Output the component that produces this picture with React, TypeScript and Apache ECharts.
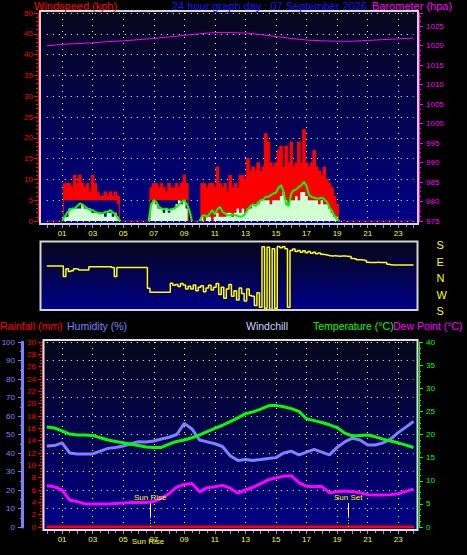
import React, { useEffect, useRef } from "react";
import * as echarts from "echarts";

// ---------- DATA (10-minute samples, 00:00 .. 24:00) ----------
const windGust = [
  0, 0, 0, 0, 0, 0, 0,
  9, 9, 9, 8, 11, 9, 11, 9, 8, 9, 7, 11, 9, 7, 6, 6, 7, 6, 7, 6, 7, 6,
  0, 0, 0, 0, 0, 0, 0, 0, 0, 0, 0, 0,
  8, 9, 9, 8, 9, 8, 7, 9, 8, 8, 9, 8, 9, 11, 9,
  0, 0, 0, 0, 0,
  9, 9, 8, 9, 9, 8, 13, 9, 8, 9, 7, 11, 8, 9, 8, 11, 11, 10, 15, 12,
  13, 12, 14, 12, 13, 21, 19, 14, 13, 14, 17, 18, 13, 18, 14, 19, 13, 14, 19, 14,
  22, 14, 13, 14, 17, 13, 12, 11, 13, 10, 9, 8, 6, 4,
  0, 0, 0, 0, 0, 0, 0, 0, 0, 0, 0, 0, 0, 0, 0, 0, 0, 0, 0, 0, 0, 0, 0, 0, 0, 0, 0, 0, 0, 0,
];
// lower edge of the red gust band
const windGustLow = [
  0, 0, 0, 0, 0, 0, 0,
  5, 5, 5, 5, 5, 5, 5, 5, 5, 5, 5, 5, 5, 5, 5, 5, 5, 5, 5, 5, 5, 4,
  0, 0, 0, 0, 0, 0, 0, 0, 0, 0, 0, 0,
  5, 5, 5, 5, 5, 5, 5, 5, 5, 5, 5, 5, 5, 5, 5,
  0, 0, 0, 0, 0,
  1, 0, 1, 1, 0, 1, 2, 1, 1, 1, 2, 2, 1, 2, 3, 2, 3, 2, 3, 3,
  4, 4, 4, 5, 5, 5, 5, 4, 5, 5, 5, 6, 7, 5, 4, 5, 5, 6, 5, 7,
  7, 6, 5, 5, 5, 5, 4, 5, 4, 4, 3, 2, 1, 1,
  0, 0, 0, 0, 0, 0, 0, 0, 0, 0, 0, 0, 0, 0, 0, 0, 0, 0, 0, 0, 0, 0, 0, 0, 0, 0, 0, 0, 0, 0,
];
const windSpeed = [
  0, 0, 0, 0, 0, 0, 0,
  1, 1, 3, 3, 3, 3, 3, 4, 3, 3, 3, 2, 2, 2, 2, 2, 1, 2, 2, 1, 2, 1,
  0, 0, 0, 0, 0, 0, 0, 0, 0, 0, 0, 0,
  4, 5, 4, 3, 3, 2, 3, 2, 3, 3, 4, 5, 4, 5, 3,
  0, 0, 0, 0, 0,
  1, 0, 1, 1, 0, 1, 2, 1, 1, 1, 2, 2, 1, 2, 3, 2, 3, 2, 3, 3,
  4, 4, 4, 5, 5, 5, 5, 4, 5, 5, 5, 6, 7, 5, 4, 5, 5, 6, 5, 7,
  7, 6, 5, 5, 5, 5, 4, 5, 4, 4, 3, 2, 1, 1,
  0, 0, 0, 0, 0, 0, 0, 0, 0, 0, 0, 0, 0, 0, 0, 0, 0, 0, 0, 0, 0, 0, 0, 0, 0, 0, 0, 0, 0, 0,
];
const windAvg = [
  0, 0, 0, 0, 0, 0, 0,
  1.0, 2.0, 2.6, 3.0, 3.0, 3.6, 4.2, 4.0, 3.4, 3.0, 2.6, 2.6, 2.2, 2.0, 1.8, 1.8, 2.2, 2.2, 2.6, 2.0, 1.6, 0.6,
  0, 0, 0, 0, 0, 0, 0, 0, 0, 0, 0, 0,
  4.0, 5.0, 4.6, 3.4, 3.0, 2.8, 3.0, 2.6, 2.8, 3.0, 3.4, 4.0, 4.6, 5.0, 4.0, 2.6,
  0, 0, 0, 0,
  1.2, 1.4, 1.0, 1.8, 2.6, 1.6, 2.8, 3.4, 2.2, 1.8, 1.4, 1.4, 1.6, 1.4, 1.2, 1.0, 1.2, 1.8, 2.8, 3.6,
  4.0, 3.6, 4.4, 5.0, 5.2, 5.8, 5.8, 6.2, 6.6, 6.8, 8.0, 8.6, 7.0, 4.0, 3.6, 6.6, 7.4, 7.6, 8.2, 8.6,
  9.4, 8.4, 6.2, 5.8, 5.6, 5.4, 5.4, 5.6, 5.2, 4.6, 3.2, 2.4, 1.2, 0.4,
  0, 0, 0, 0, 0, 0, 0, 0, 0, 0, 0, 0, 0, 0, 0, 0, 0, 0, 0, 0, 0, 0, 0, 0, 0, 0, 0, 0, 0, 0,
];
// wind direction, compass bearing in degrees (10-minute samples)
const windDir = [
  66, 66, 66, 66, 66, 66, 66,
  8,
  50, 36, 40, 50, 49, 44, 44, 44, 44,
  62, 62, 62, 62, 62, 62, 62, 62, 62,
  57, 8,
  57, 57, 57, 57, 57, 57, 57, 57, 57, 57, 57, 57,
  304, 282, 282, 282, 282, 282, 282, 282, 282,
  331, 320, 325, 313, 330, 322, 300,
  315, 300, 322, 290, 310, 318, 285, 305, 320, 295, 310,
  330, 270, 310, 250, 300, 325, 260, 290, 240, 305, 275, 235, 300, 265,
  260, 210, 280, 200,
  170, 195, 168, 190, 160, 195, 172, 165, 170, 160, 200, 150,
  158, 145, 150, 140, 148, 138, 145, 135, 140, 132, 136, 130, 128, 125,
  122, 120, 121, 120, 119, 120, 120, 118, 117,
  107, 105, 100, 99, 98, 96,
  86, 85, 85, 85, 86, 85, 84, 84,
  75, 72, 71, 71, 71, 71, 71, 71, 71, 71, 71,
];
// hourly barometer (hPa)
const barometer = [
  1019.9, 1020.3, 1020.5, 1020.7, 1021.0, 1021.2, 1021.5, 1021.8, 1022.2, 1022.6,
  1023.0, 1023.3, 1023.3, 1023.2, 1022.8, 1022.3, 1021.8, 1021.4, 1021.2, 1021.1,
  1021.1, 1021.3, 1021.5, 1021.7, 1021.9,
];
// half-hourly values
const temperature = [
  21.6, 21.4, 20.8, 20.1, 19.9, 19.9, 19.8, 19.3, 18.8, 18.5,
  18.2, 17.9, 17.6, 17.3, 17.2, 17.2, 17.9, 18.5, 18.8, 19.3,
  19.9, 20.6, 21.3, 22.0, 22.8, 23.6, 24.5, 24.9, 25.5, 26.2,
  26.3, 26.0, 25.6, 25.0, 23.4, 23.0, 22.6, 22.1, 21.5, 20.3,
  19.7, 19.8, 19.9, 19.5, 19.0, 18.6, 18.2, 17.7, 17.2,
];
const humidity = [
  43.8, 44, 45.5, 40, 39.5, 39.5, 39.5, 41, 42.5, 43,
  43.8, 45, 46.1, 46, 46.5, 47.6, 48.5, 50, 56, 53,
  47, 46, 45, 43.5, 38.5, 36, 36.5, 36, 36.5, 37,
  37.5, 40, 41, 39, 40.5, 42, 40.5, 39, 43, 46,
  48, 47, 44.3, 44.3, 45.5, 47.5, 51, 54, 57,
];
const dewPoint = [
  8.9, 8.7, 8.0, 5.8, 5.5, 5.0, 5.0, 5.0, 5.0, 5.1,
  5.2, 5.3, 5.3, 5.3, 5.5, 6.2, 7.2, 8.6, 9.2, 9.4,
  7.6, 8.5, 8.7, 9.0, 8.4, 7.3, 8.0, 8.6, 9.4, 10.2,
  10.6, 11.0, 11.1, 9.6, 8.8, 8.7, 8.8, 7.4, 7.6, 7.8,
  7.6, 7.4, 7.0, 6.9, 6.9, 7.0, 7.2, 7.7, 8.2,
];
const rainfall = [0, 0, 0, 0, 0, 0, 0, 0, 0, 0, 0, 0, 0, 0, 0, 0, 0, 0, 0, 0, 0, 0, 0, 0, 0];
const sunRise = 6.77;
const sunSet = 19.73;
const dirLabels: Record<string, string> = { "180": "S", "90": "E", "0": "N", "-90": "W", "-180": "S" };

// ---------- CHART ----------
const FONT = "'Liberation Sans', Arial, sans-serif";
const GL = 46.8;
const GR = 53.5;
const W = 467;

const t10 = windGust.map((_, i) => i / 6);
const t30 = temperature.map((_, i) => i / 2);
const t60 = barometer.map((_, i) => i);
const zip = (t: number[], v: (number | string)[]) => t.map((x, i) => [x, v[i]]);

const stops = [
  { offset: 0, color: "#06061a" },
  { offset: 1, color: "#000088" },
];
const bgFill = { type: "linear", x: 0, y: 0, x2: 0, y2: 1, colorStops: stops };
// same gradient in page coordinates, used to cut the gap under the gust band
const topBgGlobal = { type: "linear", x: 0, y: 11, x2: 0, y2: 224, global: true, colorStops: stops };

const hourAxis = (gridIndex: number, show: boolean) => ({
  type: "value", gridIndex, min: 0, max: 24, interval: 1, offset: 3,
  axisLine: { show: false, onZero: false },
  axisTick: { show, length: 4, lineStyle: { color: "#9a9a9a" } },
  minorTick: { show, splitNumber: 2, length: 3, lineStyle: { color: "#9a9a9a" } },
  axisLabel: {
    show, color: "#ffff00", fontSize: 8, fontFamily: FONT, margin: 5,
    formatter: (v: number) => (v % 2 === 1 ? String(v).padStart(2, "0") : ""),
  },
  splitLine: { show, lineStyle: { color: ["rgba(0,0,0,0)", "#ffffff"], type: [1, 5], width: 1 } },
});

const valAxis = (o: any) => ({
  type: "value",
  axisLine: { show: true, onZero: false, lineStyle: { color: o.color, width: o.lw || 1, type: o.lt || "solid" } },
  axisTick: { show: true, length: 4, lineStyle: { color: o.color } },
  minorTick: { show: !!o.minor, splitNumber: o.minor || 2, length: 2, lineStyle: { color: o.color } },
  axisLabel: { color: o.color, fontSize: 8, fontFamily: FONT, margin: o.margin, showMaxLabel: o.showMax !== false,
    formatter: (v: number) => String(Math.round(v)) },
  splitLine: o.split
    ? { show: true, lineStyle: { color: "#ffffff", type: [1, 5], width: 1 } }
    : { show: false },
  gridIndex: o.grid, position: o.pos, offset: o.offset, min: o.min, max: o.max, interval: o.interval,
});

const avgData = windAvg.map((v, i) =>
  v === 0 && (windAvg[i - 1] ?? 0) === 0 && (windAvg[i + 1] ?? 0) === 0 ? [t10[i], "-"] : [t10[i], v]
);
const dirData = windDir.map((b, i) => [t10[i], b > 180 ? b - 360 : b]);

const sunLine = (t: number, name: string) => [
  [
    { coord: [t, 5.2], lineStyle: { color: "#ffffff", type: "solid", width: 1 },
      label: { show: true, position: "start", distance: 1, formatter: name, color: "#ffff00", fontSize: 8, fontFamily: FONT } },
    { coord: [t, 2.2] },
  ],
  [
    { coord: [t, 2.2], lineStyle: { color: "#ffff00", type: [1, 2], width: 1 }, label: { show: false } },
    { coord: [t, 0] },
  ],
];

const txt = (text: string, x: number, y: number, color: string, size = 11, align = "left") => ({
  type: "text", z: 30, x, y,
  style: { text, fill: color, font: `${size}px ${FONT}`, textAlign: align, textVerticalAlign: "middle" },
});

const option: any = {
  animation: false,
  backgroundColor: "#000000",
  graphic: {
    elements: [
      { type: "rect", z: -10, shape: { x: 40, y: 11, width: 378, height: 213 }, style: { fill: bgFill } },
      { type: "rect", z: -10, shape: { x: 40.5, y: 241.5, width: 377, height: 68.5 }, style: { fill: bgFill } },
      { type: "rect", z: -10, shape: { x: 43.5, y: 340, width: 374, height: 190 }, style: { fill: bgFill } },
      { type: "rect", z: 20, shape: { x: 40, y: 11, width: 378, height: 213 }, style: { fill: "rgba(0,0,0,0)", stroke: "#d4d4d4", lineWidth: 2 } },
      { type: "rect", z: 20, shape: { x: 40.5, y: 241.5, width: 377, height: 68.5 }, style: { fill: "rgba(0,0,0,0)", stroke: "#d4d4d4", lineWidth: 2 } },
      { type: "rect", z: 20, shape: { x: 43.5, y: 340, width: 374, height: 190 }, style: { fill: "rgba(0,0,0,0)", stroke: "#e0e0e0", lineWidth: 2 } },
      txt("Windspeed (kph)", 34, 6, "#ff0000"),
      txt("24 hour graph day : 07 September 2026", 172, 6, "#1414ff"),
      txt("Barometer (hpa)", 372, 6, "#ff00ff"),
      txt("Rainfall (mm)", 0, 326, "#ff0000", 10.5),
      txt("Humidity (%)", 67, 326, "#8080ff", 10.5),
      txt("Windchill", 246, 326, "#c8d8ff", 10.5),
      txt("Temperature (°C)", 313, 326, "#00ff00", 10.5),
      txt("Dew Point (°C)", 393, 326, "#ff00ff", 10.5),
      txt("Sun Rise", 148, 541, "#ffff00", 8, "center"),
    ],
  },
  grid: [
    { left: GL, right: GR, top: 13, height: 208, outerBoundsMode: "none" },
    { left: GL, right: GR, top: 245, height: 66, outerBoundsMode: "none" },
    { left: GL, right: GR, top: 342, height: 185, outerBoundsMode: "none" },
  ],
  xAxis: [hourAxis(0, true), hourAxis(1, false), hourAxis(2, true)],
  yAxis: [
    valAxis({ grid: 0, pos: "left", offset: GL - 38, min: 0, max: 50, interval: 5, color: "#ff0000", margin: 5, split: true, minor: 5 }),
    valAxis({ grid: 0, pos: "right", offset: 419 - (W - GR), min: 975, max: 975 + 208 / 3.9, interval: 5, color: "#ff00ff", margin: 7, minor: 4, showMax: false }),
    {
      type: "value", gridIndex: 1, position: "right", min: -180, max: 180, interval: 90,
      axisLine: { show: false, onZero: false }, axisTick: { show: false }, splitLine: { show: false },
      axisLabel: { color: "#ffff00", fontSize: 11, fontFamily: FONT, margin: 23, formatter: (v: number) => dirLabels[String(v)] || "" },
    },
    valAxis({ grid: 2, pos: "left", offset: GL - 22, min: 0, max: 100, interval: 10, color: "#8080ff", margin: 7, split: true, minor: 2, lw: 3 }),
    valAxis({ grid: 2, pos: "left", offset: GL - 42, min: 0, max: 30, interval: 2, color: "#ff0000", margin: 6, minor: 4, lt: [1, 1] }),
    valAxis({ grid: 2, pos: "right", offset: 419 - (W - GR), min: 0, max: 40, interval: 5, color: "#00ff00", margin: 7, minor: 4 }),
  ],
  series: [
    {
      name: "Gust", type: "line", xAxisIndex: 0, yAxisIndex: 0, step: "middle", silent: true,
      symbol: "none", lineStyle: { color: "#ff0000", width: 1 }, areaStyle: { color: "#ff0000", opacity: 1 },
      data: zip(t10, windGust),
    },
    {
      name: "GustGap", type: "line", xAxisIndex: 0, yAxisIndex: 0, step: "middle", silent: true,
      symbol: "none", lineStyle: { opacity: 0, width: 0 }, areaStyle: { color: topBgGlobal, opacity: 1 },
      data: zip(t10, windGustLow),
    },
    {
      name: "Speed", type: "line", xAxisIndex: 0, yAxisIndex: 0, step: "middle", silent: true,
      symbol: "none", lineStyle: { opacity: 0, width: 0 }, areaStyle: { color: "#d2ffd2", opacity: 1 },
      data: zip(t10, windSpeed),
    },
    {
      name: "Average", type: "line", xAxisIndex: 0, yAxisIndex: 0, silent: true,
      symbol: "none", lineStyle: { color: "#00ff00", width: 2 }, data: avgData,
    },
    {
      name: "Barometer", type: "line", xAxisIndex: 0, yAxisIndex: 1, silent: true,
      symbol: "none", lineStyle: { color: "#ff00ff", width: 1 }, data: zip(t60, barometer),
    },
    {
      name: "Direction", type: "line", xAxisIndex: 1, yAxisIndex: 2, step: "middle", silent: true,
      symbol: "none", lineStyle: { color: "#ffff00", width: 1.5 }, data: dirData,
    },
    {
      name: "Rainfall", type: "line", xAxisIndex: 2, yAxisIndex: 4, silent: true,
      symbol: "none", lineStyle: { color: "#ff0000", width: 3 }, data: zip(t60, rainfall),
    },
    {
      name: "Humidity", type: "line", xAxisIndex: 2, yAxisIndex: 3, silent: true,
      symbol: "none", lineStyle: { color: "#8080ff", width: 3 }, data: zip(t30, humidity),
    },
    {
      name: "Temperature", type: "line", xAxisIndex: 2, yAxisIndex: 5, silent: true,
      symbol: "none", lineStyle: { color: "#00ff00", width: 3 }, data: zip(t30, temperature),
    },
    {
      name: "Dew Point", type: "line", xAxisIndex: 2, yAxisIndex: 5, silent: true,
      symbol: "none", lineStyle: { color: "#ff00ff", width: 3 }, data: zip(t30, dewPoint),
      markLine: {
        silent: true, symbol: "none", animation: false,
        data: [...sunLine(sunRise, "Sun Rise"), ...sunLine(sunSet, "Sun Set")],
      },
    },
  ],
};

export default function App() {
  const ref = useRef<HTMLDivElement>(null);
  useEffect(() => {
    if (!ref.current) return;
    const chart = echarts.init(ref.current, null, { renderer: "svg" });
    chart.setOption(option);
    return () => chart.dispose();
  }, []);
  return (
    <div
      ref={ref}
      style={{ position: "fixed", left: 0, top: 0, width: 467, height: 555, background: "#000" }}
    />
  );
}
